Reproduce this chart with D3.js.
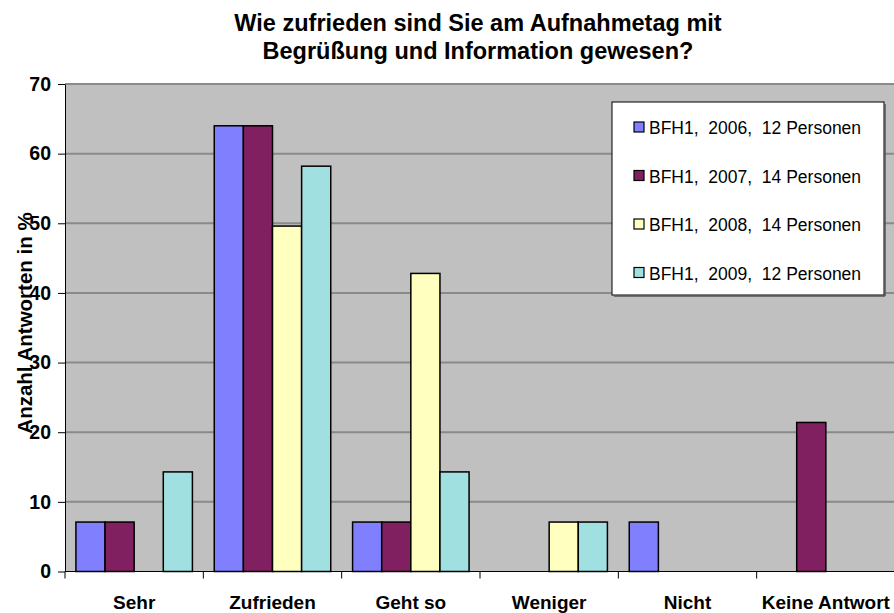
<!DOCTYPE html>
<html>
<head>
<meta charset="utf-8">
<script src="https://cdn.jsdelivr.net/npm/d3@7"></script>
<style>
  body { margin: 0; background: #fff; }
  svg { display: block; font-family: 'Liberation Sans', Arial, sans-serif; }
</style>
</head>
<body>
<div id="chart"></div>
<script>
const categories = ['Sehr', 'Zufrieden', 'Geht so', 'Weniger', 'Nicht', 'Keine Antwort'];
const seriesNames = ['BFH1,  2006,  12 Personen', 'BFH1,  2007,  14 Personen', 'BFH1,  2008,  14 Personen', 'BFH1,  2009,  12 Personen'];
const seriesColors = ['#8080ff', '#802060', '#ffffc0', '#a0e0e0'];
const values2006 = [7.1, 64.0, 7.1, 0, 7.1, 0];
const values2007 = [7.1, 64.0, 7.1, 0, 0, 21.4];
const values2008 = [0, 49.6, 42.8, 7.1, 0, 0];
const values2009 = [14.3, 58.2, 14.3, 7.1, 0, 0];
const yTicks = [0, 10, 20, 30, 40, 50, 60, 70];

const allValues = [values2006, values2007, values2008, values2009];

const W = 894, H = 613;
const margin = {top: 84, right: -1, bottom: 41.5, left: 65};
const innerW = W - margin.left - margin.right;
const innerH = H - margin.top - margin.bottom;

const svg = d3.select('#chart').append('svg')
  .attr('width', W)
  .attr('height', H);

// title
const title = svg.append('text')
  .attr('x', 478)
  .attr('y', 31)
  .attr('text-anchor', 'middle')
  .style('font-size', '23.5px')
  .style('font-weight', 'bold');
title.append('tspan').attr('x', 478).attr('dy', 0).text('Wie zufrieden sind Sie am Aufnahmetag mit');
title.append('tspan').attr('x', 478).attr('dy', 28).text('Begrüßung und Information gewesen?');

const g = svg.append('g').attr('transform', `translate(${margin.left},${margin.top})`);

const x = d3.scaleBand().domain(categories).range([0, innerW]).paddingInner(0).paddingOuter(0);
const xs = d3.scaleBand().domain(d3.range(seriesNames.length)).range([0, x.bandwidth()]).paddingOuter(0.375).paddingInner(0);
const y = d3.scaleLinear().domain([0, 70]).range([innerH, 0]);

// plot background
g.append('rect')
  .attr('width', innerW)
  .attr('height', innerH)
  .attr('fill', '#c0c0c0');

// gridlines
g.append('g').selectAll('line')
  .data(yTicks.filter(d => d > 0)).enter().append('line')
    .attr('x1', 0).attr('x2', innerW)
    .attr('y1', d => y(d)).attr('y2', d => y(d))
    .attr('stroke', '#8a8a8a')
    .attr('stroke-width', 2);

// bars
const groups = g.append('g').selectAll('g')
  .data(categories).enter().append('g')
    .attr('transform', d => `translate(${x(d)},0)`);

groups.selectAll('rect')
  .data((c, ci) => allValues.map((vals, si) => ({si, v: vals[ci]})))
  .enter().append('rect')
    .attr('x', d => xs(d.si))
    .attr('width', xs.bandwidth())
    .attr('y', d => y(d.v))
    .attr('height', d => innerH - y(d.v))
    .attr('fill', d => seriesColors[d.si])
    .attr('stroke', '#000')
    .attr('stroke-width', d => d.v > 0 ? 1.5 : 0);

// y axis
const yAxis = g.append('g')
  .call(d3.axisLeft(y).tickValues(yTicks).tickSize(7).tickSizeOuter(0).tickPadding(7));
yAxis.select('.domain').attr('stroke', '#000');
yAxis.selectAll('.tick line').attr('stroke', '#000');
yAxis.selectAll('text')
  .style('font-size', '19.5px')
  .style('font-weight', 'bold')
  .style('font-family', "'Liberation Sans', Arial, sans-serif")
  .attr('fill', '#000');

// x axis
const xAxisG = g.append('g').attr('transform', `translate(0,${innerH})`);
xAxisG.append('line')
  .attr('x1', 0).attr('x2', innerW)
  .attr('stroke', '#000');
xAxisG.selectAll('.xtick')
  .data(categories).enter().append('line')
    .attr('x1', d => x(d)).attr('x2', d => x(d))
    .attr('y1', 0).attr('y2', 7)
    .attr('stroke', '#000');
xAxisG.selectAll('.xlabel')
  .data(categories).enter().append('text')
    .attr('x', d => x(d) + x.bandwidth() / 2)
    .attr('y', 37)
    .attr('text-anchor', 'middle')
    .style('font-size', '19px')
    .style('font-weight', 'bold')
    .text(d => d);

// y axis title
svg.append('text')
  .attr('transform', `translate(32,323) rotate(-90)`)
  .attr('text-anchor', 'middle')
  .style('font-size', '20.5px')
  .style('font-weight', 'bold')
  .text('Anzahl Antworten in %');

// legend
const legend = svg.append('g').attr('transform', 'translate(612,102)');
legend.append('rect')
  .attr('width', 272)
  .attr('height', 193)
  .attr('fill', '#fff')
  .attr('stroke', '#000')
  .attr('stroke-width', 1);
legend.append('line')
  .attr('x1', 2).attr('x2', 273).attr('y1', 194).attr('y2', 194)
  .attr('stroke', '#555').attr('stroke-width', 1.5);
legend.append('line')
  .attr('x1', 273).attr('x2', 273).attr('y1', 2).attr('y2', 194)
  .attr('stroke', '#555').attr('stroke-width', 1.5);

const items = legend.selectAll('.item')
  .data(seriesNames).enter().append('g')
    .attr('transform', (d, i) => `translate(0,${26 + i * 48.5})`);
items.append('rect')
  .attr('x', 22).attr('y', -6)
  .attr('width', 10).attr('height', 10)
  .attr('fill', (d, i) => seriesColors[i])
  .attr('stroke', '#000')
  .attr('stroke-width', 1.2);
items.append('text')
  .attr('x', 37)
  .attr('y', 6)
  .style('font-size', '17.5px')
  .style('white-space', 'pre')
  .text(d => d);
</script>
</body>
</html>
